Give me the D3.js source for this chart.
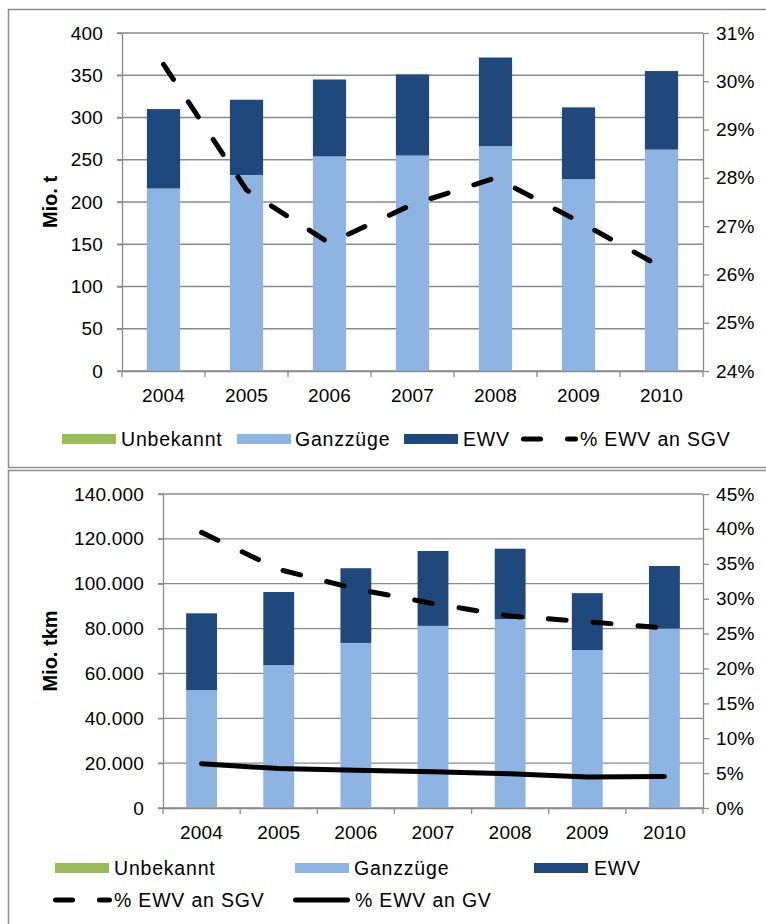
<html>
<script src="https://d3js.org/d3.v7.min.js"></script>
<body style="margin:0; background:#fff;">

<style>
    text { font-family: "Liberation Sans", Arial, sans-serif; fill: #000; }
    .tick text { font-size: 19px; letter-spacing: 0.2px; }
    .legend text { font-size: 19.5px; letter-spacing: 0.8px; }
    .title { font-size: 20px; font-weight: bold; }
</style>

<svg id="chart" width="766" height="924"></svg>

<script>
    // categories
    let years = ["2004", "2005", "2006", "2007", "2008", "2009", "2010"];

    // top chart: Mio. t
    let tonsUnknown = [0, 0, 0, 0, 0, 0, 0];
    let tonsTrains = [216, 232, 254, 255, 266, 227, 262];
    let tonsEwv = [94, 89, 91, 96, 105, 85, 93];
    let tonsShareSgv = [30.35, 27.75, 26.65, 27.45, 28.0, 27.1, 26.15];

    // bottom chart: Mio. tkm
    let tkmUnknown = [400, 0, 0, 0, 0, 0, 0];
    let tkmTrains = [52200, 63700, 73600, 81200, 84200, 70400, 80000];
    let tkmEwv = [34200, 32600, 33300, 33400, 31400, 25400, 27900];
    let tkmShareSgv = [39.5, 34.2, 31.4, 29.3, 27.5, 26.7, 25.8];
    let tkmShareGv = [6.35, 5.65, 5.4, 5.2, 4.9, 4.45, 4.5];

    // tick values
    let tonsTicks = [0, 50, 100, 150, 200, 250, 300, 350, 400];
    let tonsPctTicks = [24, 25, 26, 27, 28, 29, 30, 31];
    let tkmTicks = [0, 20000, 40000, 60000, 80000, 100000, 120000, 140000];
    let tkmPctTicks = [0, 5, 10, 15, 20, 25, 30, 35, 40, 45];

    let colors = {u: "#9BBB59", g: "#8EB4E3", e: "#1F497D"};
    let gridColor = "#8a8a8a";
    let dashPattern = "18 27";

    let de = d3.formatLocale({decimal: ",", thousands: ".", grouping: [3], currency: ["", " €"]});
    let fmtDe = de.format(",.0f");

    let svg = d3.select("#chart");

    // panel frames
    svg.append("rect").attr("x", 8.5).attr("y", 9.5).attr("width", 780).attr("height", 458)
        .attr("fill", "none").attr("stroke", "#8c8c8c").attr("stroke-width", 1.5);
    svg.append("rect").attr("x", 8.5).attr("y", 470.5).attr("width", 780).attr("height", 480)
        .attr("fill", "none").attr("stroke", "#8c8c8c").attr("stroke-width", 1.5);

    function drawPanel(opt) {
        let g = svg.append("g");

        let x = d3.scaleBand().domain(years)
            .range([opt.left, opt.right])
            .paddingInner(0.6).paddingOuter(0.3);
        let step = x.step();

        let y = d3.scaleLinear().domain(d3.extent(opt.ticks)).range([opt.bottom, opt.top]);
        let y2 = d3.scaleLinear().domain(d3.extent(opt.pctTicks)).range([opt.bottom, opt.top]);

        // gridlines
        g.selectAll(".grid").data(opt.ticks).join("line")
            .attr("x1", opt.left - 5).attr("x2", opt.right)
            .attr("y1", d => y(d)).attr("y2", d => y(d))
            .attr("stroke", gridColor).attr("stroke-width", 1.3);

        // stacked bars
        let rows = years.map((yr, i) => ({year: yr, u: opt.unknown[i], g: opt.trains[i], e: opt.ewv[i]}));
        let stacked = d3.stack().keys(["u", "g", "e"])(rows);
        g.selectAll(".series").data(stacked).join("g")
            .attr("fill", d => colors[d.key])
            .selectAll("rect").data(d => d).join("rect")
            .attr("x", d => x(d.data.year))
            .attr("width", x.bandwidth())
            .attr("y", d => y(d[1]))
            .attr("height", d => y(d[0]) - y(d[1]));

        // left axis
        let la = g.append("g").attr("transform", `translate(${opt.left},0)`)
            .call(d3.axisLeft(y).tickValues(opt.ticks).tickSize(5).tickSizeOuter(0)
                .tickPadding(14).tickFormat(opt.fmt));
        la.select(".domain").attr("stroke", gridColor).attr("stroke-width", 1.3);
        la.selectAll(".tick line").attr("stroke", gridColor).attr("stroke-width", 1.3);

        // right axis
        let ra = g.append("g").attr("transform", `translate(${opt.right},0)`)
            .call(d3.axisRight(y2).tickValues(opt.pctTicks).tickSize(6).tickSizeOuter(0)
                .tickPadding(7).tickFormat(d => d + "%"));
        ra.select(".domain").attr("stroke", gridColor).attr("stroke-width", 1.3);
        ra.selectAll(".tick line").attr("stroke", gridColor).attr("stroke-width", 1.3);

        // bottom axis
        let ba = g.append("g").attr("transform", `translate(0,${opt.bottom})`)
            .call(d3.axisBottom(x).tickSize(0).tickPadding(18).tickSizeOuter(0));
        ba.select(".domain").attr("stroke", gridColor).attr("stroke-width", 1.3);
        g.selectAll(".sep").data(d3.range(years.length + 1)).join("line")
            .attr("x1", i => opt.left + i * step).attr("x2", i => opt.left + i * step)
            .attr("y1", opt.bottom).attr("y2", opt.bottom + 6)
            .attr("stroke", gridColor).attr("stroke-width", 1.3);

        g.selectAll(".tick text").attr("fill", "#000");

        // percentage lines
        let line = d3.line().x((d, i) => x(years[i]) + x.bandwidth() / 2).y(d => y2(d));
        opt.lines.forEach(l => {
            g.append("path").datum(l.values)
                .attr("d", line)
                .attr("fill", "none").attr("stroke", "#000")
                .attr("stroke-width", 5).attr("stroke-linecap", "round").attr("stroke-linejoin", "round")
                .attr("stroke-dasharray", l.dashed ? dashPattern : null);
        });

        // axis title
        g.append("text").attr("class", "title")
            .attr("transform", `translate(50,${(opt.top + opt.bottom) / 2}) rotate(-90)`)
            .attr("text-anchor", "middle").attr("dominant-baseline", "central")
            .text(opt.title);

        // legend
        let lg = g.append("g").attr("class", "legend");
        opt.legend.forEach(item => {
            if (item.type === "rect") {
                lg.append("rect").attr("x", item.x).attr("y", item.y - 5)
                    .attr("width", 54).attr("height", 10).attr("fill", item.color);
            } else {
                lg.append("line").attr("x1", item.x + 2.5).attr("x2", item.x + item.w - 2.5)
                    .attr("y1", item.y).attr("y2", item.y)
                    .attr("stroke", "#000").attr("stroke-width", 5).attr("stroke-linecap", "round")
                    .attr("stroke-dasharray", item.type === "dash" ? "17 27" : null);
            }
            lg.append("text").attr("x", item.tx).attr("y", item.y)
                .attr("dominant-baseline", "central").text(item.label);
        });
    }

    drawPanel({
        left: 122, right: 703, top: 33, bottom: 371,
        ticks: tonsTicks, pctTicks: tonsPctTicks, fmt: d => d,
        unknown: tonsUnknown, trains: tonsTrains, ewv: tonsEwv,
        lines: [{values: tonsShareSgv, dashed: true}],
        title: "Mio. t",
        legend: [
            {type: "rect", color: colors.u, x: 62, y: 439, tx: 121, label: "Unbekannt"},
            {type: "rect", color: colors.g, x: 237, y: 439, tx: 295, label: "Ganzzüge"},
            {type: "rect", color: colors.e, x: 404, y: 439, tx: 463, label: "EWV"},
            {type: "dash", x: 521, w: 57, y: 439, tx: 580, label: "% EWV an SGV"}
        ]
    });

    drawPanel({
        left: 163, right: 703, top: 494, bottom: 808,
        ticks: tkmTicks, pctTicks: tkmPctTicks, fmt: fmtDe,
        unknown: tkmUnknown, trains: tkmTrains, ewv: tkmEwv,
        lines: [{values: tkmShareSgv, dashed: true}, {values: tkmShareGv, dashed: false}],
        title: "Mio. tkm",
        legend: [
            {type: "rect", color: colors.u, x: 55, y: 868, tx: 114, label: "Unbekannt"},
            {type: "rect", color: colors.g, x: 295, y: 868, tx: 354, label: "Ganzzüge"},
            {type: "rect", color: colors.e, x: 534, y: 868, tx: 594, label: "EWV"},
            {type: "dash", x: 53, w: 59, y: 900, tx: 114, label: "% EWV an SGV"},
            {type: "solid", x: 293, w: 57, y: 900, tx: 355, label: "% EWV an GV"}
        ]
    });
</script>
</body>
</html>
